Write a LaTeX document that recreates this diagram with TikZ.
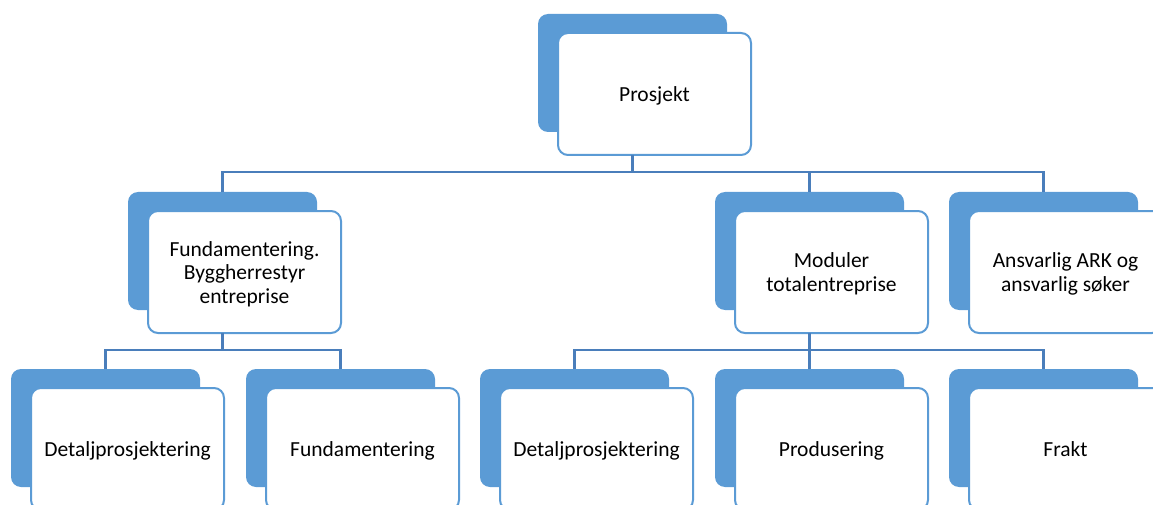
\documentclass[tikz,border=0pt]{standalone}
\usepackage{fontspec}
\setmainfont{Carlito}
\definecolor{accent}{HTML}{5B9BD5}
\definecolor{conn}{HTML}{4A7EBB}
\tikzset{
  backbox/.style={fill=accent, rounded corners=10pt, minimum width=189pt, minimum height=118pt, inner sep=0pt, outer sep=0pt, anchor=north west},
  frontbox/.style={fill=white, draw=accent, line width=2pt, rounded corners=10pt, minimum width=193pt, minimum height=122pt, inner sep=0pt, outer sep=0pt, anchor=north west, font=\fontsize{21.5}{23.5}\selectfont},
  link/.style={draw=conn, line width=2.5pt}
}
\newcommand{\orgbox}[4]{%
  \node[backbox] (#1b) at (#2,#3) {};
  \node[frontbox] (#1) at (#2+20,#3+19) {\raisebox{-3pt}[\height][\depth]{\begin{tabular}{@{}c@{}}#4\end{tabular}}};
}
\begin{document}
\begin{tikzpicture}[x=1pt,y=-1pt]
\useasboundingbox (0,0) rectangle (1153,505);
\clip (0,0) rectangle (1153,505);
\orgbox{P}{538}{14}{Prosjekt}
\orgbox{F}{128}{192}{Fundamentering.\\Byggherrestyr\\entreprise}
\orgbox{M}{715}{192}{Moduler\\totalentreprise}
\orgbox{A}{949}{192}{Ansvarlig ARK og\\ansvarlig søker}
\orgbox{D}{11}{369}{Detaljprosjektering}
\orgbox{G}{246}{369}{Fundamentering}
\orgbox{E}{480}{369}{Detaljprosjektering}
\orgbox{R}{715}{369}{Produsering}
\orgbox{K}{949}{369}{Frakt}
\coordinate (busA) at (0,172);
\coordinate (busB) at (0,350);
% level 1
\draw[link] (Pb.center |- P.south) -- (Pb.center |- busA);
\draw[link] (Fb.north) -- (Fb.north |- busA) -- (Ab.north |- busA) -- (Ab.north);
\draw[link] (Mb.north) -- (Mb.north |- busA);
% level 2 left
\draw[link] (Fb.center |- F.south) -- (Fb.center |- busB);
\draw[link] (Db.north) -- (Db.north |- busB) -- (Gb.north |- busB) -- (Gb.north);
% level 2 right
\draw[link] (Mb.center |- M.south) -- (Mb.center |- busB);
\draw[link] (Eb.north) -- (Eb.north |- busB) -- (Kb.north |- busB) -- (Kb.north);
\draw[link] (Rb.north) -- (Rb.north |- busB);
\end{tikzpicture}
\end{document}
